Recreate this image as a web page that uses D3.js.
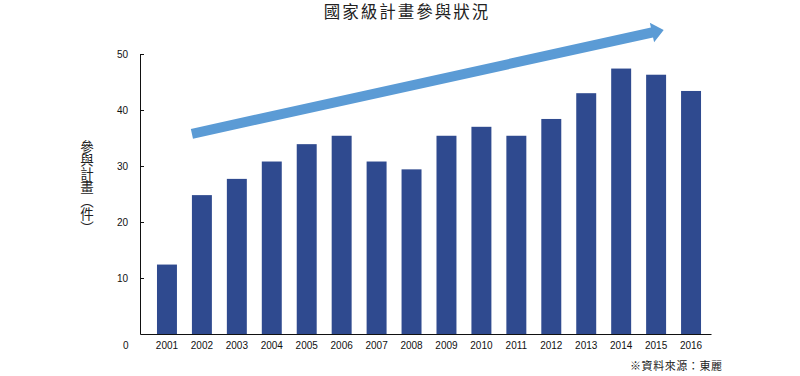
<!DOCTYPE html>
<html><head><meta charset="utf-8">
<script src="https://cdn.jsdelivr.net/npm/d3@7"></script>
<style>body{margin:0;background:#fff}svg{display:block}</style>
</head><body><svg id="c" width="800" height="376"></svg>
<script>
const years = ["2001","2002","2003","2004","2005","2006","2007","2008","2009","2010","2011","2012","2013","2014","2015","2016"];
const counts = [12.4,24.8,27.7,30.8,33.9,35.4,30.8,29.4,35.4,37.0,35.4,38.4,43.0,47.4,46.3,43.4];
const yTicks = [10,20,30,40,50];
const title = "國家級計畫參與狀況";
const yLabel = "參與計畫（件）";
const source = "※資料來源：東麗";
// trend arrow in data terms: from 2002 to 2015
const trendFrom = {year:"2002", value:35.75};
const trendTo = {year:"2015", value:54.3};

const svg = d3.select("#c");
const sansNum = "'Liberation Sans', Arial, Helvetica, sans-serif";
const cjk = "'Noto Sans CJK TC', 'Noto Sans CJK SC', sans-serif";

const x = d3.scaleBand().domain(years).range([140, 711])
  .paddingInner(0.4286).paddingOuter(0.3857).align(0.63);
const y = d3.scaleLinear().domain([0, 50]).range([334, 54]);

// bars
svg.append("g").selectAll("rect").data(years).join("rect")
  .attr("x", d => x(d))
  .attr("y", (d,i) => y(counts[i]))
  .attr("width", x.bandwidth())
  .attr("height", (d,i) => y(0) - y(counts[i]))
  .attr("fill", "#2f4a8f");

// y axis
const gy = svg.append("g").attr("transform", "translate(140,0)")
  .call(d3.axisLeft(y).tickValues(yTicks).tickSizeInner(-4).tickSizeOuter(0).tickPadding(12));
gy.selectAll("path,line").attr("stroke", "#111");
gy.selectAll("text").attr("font-family", sansNum).attr("font-size", 10).attr("fill", "#111");

// x axis
const gx = svg.append("g").attr("transform", `translate(0,${y(0)})`)
  .call(d3.axisBottom(x).tickSize(0).tickSizeOuter(0).tickPadding(8));
gx.selectAll("path").attr("stroke", "#111").attr("stroke-width", 1.2);
gx.selectAll("text").attr("font-family", sansNum).attr("font-size", 10).attr("fill", "#111");
// zero label on the x label row
gx.append("text").attr("x", 128.5).attr("y", 8).attr("dy", "0.71em")
  .attr("text-anchor", "end").attr("font-family", sansNum).attr("font-size", 10)
  .attr("fill", "#111").text("0");

// trend arrow
(function(){
  const x0 = x(trendFrom.year), y0 = y(trendFrom.value);
  const x1 = x(trendTo.year) + x.bandwidth() * 0.88, y1 = y(trendTo.value);
  const dx = x1 - x0, dy = y1 - y0, L = Math.hypot(dx, dy);
  const ux = dx / L, uy = dy / L, px = -uy, py = ux;
  const sw = 5, hw = 10, hl = 12;
  const bx = x1 - ux * hl, by = y1 - uy * hl;
  const pts = [
    [x0 + px*sw, y0 + py*sw], [bx + px*sw, by + py*sw], [bx + px*hw, by + py*hw],
    [x1, y1],
    [bx - px*hw, by - py*hw], [bx - px*sw, by - py*sw], [x0 - px*sw, y0 - py*sw]
  ];
  svg.append("path").attr("d", d3.line()(pts) + "Z").attr("fill", "#5b9bd5");
})();

// title
svg.append("text").attr("x", 407).attr("y", 18).attr("text-anchor", "middle")
  .attr("font-family", cjk).attr("font-size", 16.5).attr("letter-spacing", 2)
  .attr("fill", "#222").text(title);

// y label (vertical)
svg.append("text").attr("x", 87).attr("y", 140)
  .attr("style", "writing-mode: vertical-rl; text-orientation: mixed;")
  .attr("font-family", cjk).attr("font-size", 13.5).attr("fill", "#222").text(yLabel);

// source
svg.append("text").attr("x", 722).attr("y", 370).attr("text-anchor", "end")
  .attr("font-family", cjk).attr("font-size", 11).attr("fill", "#222")
  .attr("textLength", 92).attr("lengthAdjust", "spacing").text(source);
</script></body></html>
